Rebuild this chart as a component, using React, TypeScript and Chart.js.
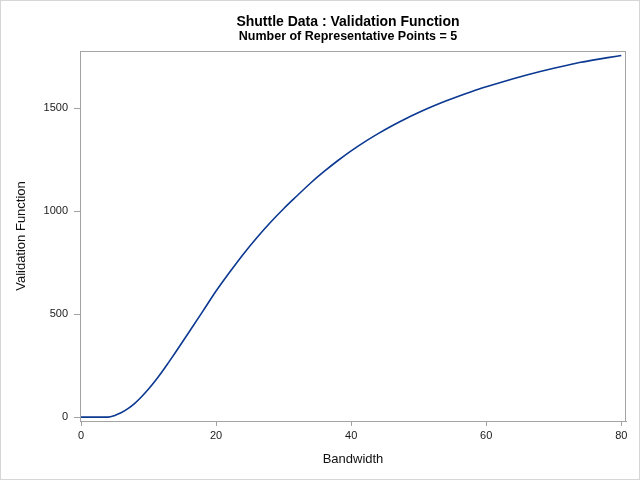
import React, { useEffect, useRef } from "react";
import { Chart, registerables } from "chart.js";

Chart.register(...registerables);

const TITLE = "Shuttle Data : Validation Function";
const SUBTITLE = "Number of Representative Points = 5";
const X_LABEL = "Bandwidth";
const Y_LABEL = "Validation Function";

const bandwidth = [
  0, 1, 2, 3, 4, 5, 6, 7, 8, 9, 10, 11, 12, 13, 14, 16, 18, 20, 22, 24, 26, 28,
  30, 32, 34, 36, 38, 40, 42, 44, 46, 48, 50, 52, 54, 56, 58, 60, 62, 64, 66,
  68, 70, 72, 74, 76, 78, 80,
];
const validation = [
  0, 0, 0, 0, 0, 8, 22, 42, 68, 100, 136, 176, 220, 267, 315, 413, 512, 612,
  703, 790, 870, 944, 1012, 1075, 1137, 1193, 1245, 1293, 1337, 1377, 1414,
  1448, 1479, 1508, 1535, 1560, 1583, 1604, 1624, 1643, 1661, 1678, 1694, 1709,
  1723, 1735, 1746, 1756,
];
const xTicks = [0, 20, 40, 60, 80];
const yTicks = [0, 500, 1000, 1500];

const FONT = "'Liberation Sans', Arial, sans-serif";

const decorPlugin = {
  id: "decor",
  beforeDraw(chart: any) {
    const ctx = chart.ctx;
    ctx.save();
    ctx.fillStyle = "#ffffff";
    ctx.fillRect(0, 0, chart.width, chart.height);
    ctx.restore();
  },
  afterDraw(chart: any) {
    const ctx = chart.ctx;
    const a = chart.chartArea;
    ctx.save();
    // plot frame
    ctx.strokeStyle = "#a3a3a3";
    ctx.lineWidth = 1;
    ctx.strokeRect(a.left + 0.5, a.top + 0.5, a.right - a.left - 1, a.bottom - a.top);
    // outer border
    ctx.strokeStyle = "#d6d6d6";
    ctx.strokeRect(0.5, 0.5, chart.width - 1, chart.height - 1);
    // titles
    ctx.fillStyle = "#000000";
    ctx.textAlign = "center";
    ctx.textBaseline = "alphabetic";
    ctx.font = `bold 14px ${FONT}`;
    ctx.fillText(TITLE, 348, 26);
    ctx.font = `bold 12.5px ${FONT}`;
    ctx.fillText(SUBTITLE, 348, 40);
    // axis labels
    const cx = (a.left + a.right) / 2;
    const cy = (a.top + a.bottom) / 2;
    ctx.font = `13px ${FONT}`;
    ctx.fillStyle = "#111111";
    ctx.fillText(X_LABEL, cx, 463);
    ctx.translate(25, cy);
    ctx.rotate(-Math.PI / 2);
    ctx.fillText(Y_LABEL, 0, 0);
    ctx.restore();
  },
};

export default function App() {
  const ref = useRef<HTMLCanvasElement | null>(null);

  useEffect(() => {
    if (!ref.current) return;
    const points = bandwidth.map((x, i) => ({ x, y: validation[i] }));
    const tickFont = { family: FONT, size: 11 };
    const chart = new Chart(ref.current, {
      type: "line",
      data: {
        datasets: [
          {
            data: points,
            borderColor: "#0b3891",
            borderWidth: 1.6,
            pointRadius: 0,
            fill: false,
            cubicInterpolationMode: "monotone",
          },
        ],
      },
      options: {
        animation: false,
        responsive: false,
        events: [],
        layout: { padding: { top: 51, right: 14, left: 0, bottom: 0 } },
        plugins: {
          legend: { display: false },
          tooltip: { enabled: false },
          title: { display: false },
        },
        scales: {
          x: {
            type: "linear",
            min: -0.15,
            max: 80.7,
            grid: {
              drawOnChartArea: false,
              drawTicks: true,
              tickLength: 5,
              color: "#a3a3a3",
            },
            border: { display: true, color: "#a3a3a3" },
            ticks: {
              font: tickFont,
              color: "#1a1a1a",
              padding: 3,
              maxRotation: 0,
              autoSkip: false,
              callback: (v: any) => String(v),
            },
            afterBuildTicks: (s: any) => {
              s.ticks = xTicks.map((v) => ({ value: v }));
            },
            afterFit: (s: any) => {
              s.height = 59;
            },
          },
          y: {
            type: "linear",
            min: -19,
            max: 1778,
            grid: {
              drawOnChartArea: false,
              drawTicks: true,
              tickLength: 6,
              color: "#a3a3a3",
            },
            border: { display: true, color: "#a3a3a3" },
            ticks: {
              font: tickFont,
              color: "#1a1a1a",
              padding: 6,
              autoSkip: false,
              callback: (v: any) => String(v),
            },
            afterBuildTicks: (s: any) => {
              s.ticks = yTicks.map((v) => ({ value: v }));
            },
            afterFit: (s: any) => {
              s.width = 80;
            },
          },
        },
      },
      plugins: [decorPlugin],
    });
    return () => chart.destroy();
  }, []);

  return (
    <div style={{ position: "absolute", left: 0, top: 0, width: 640, height: 480, background: "#fff" }}>
      <canvas ref={ref} width={640} height={480} style={{ display: "block" }} />
    </div>
  );
}
